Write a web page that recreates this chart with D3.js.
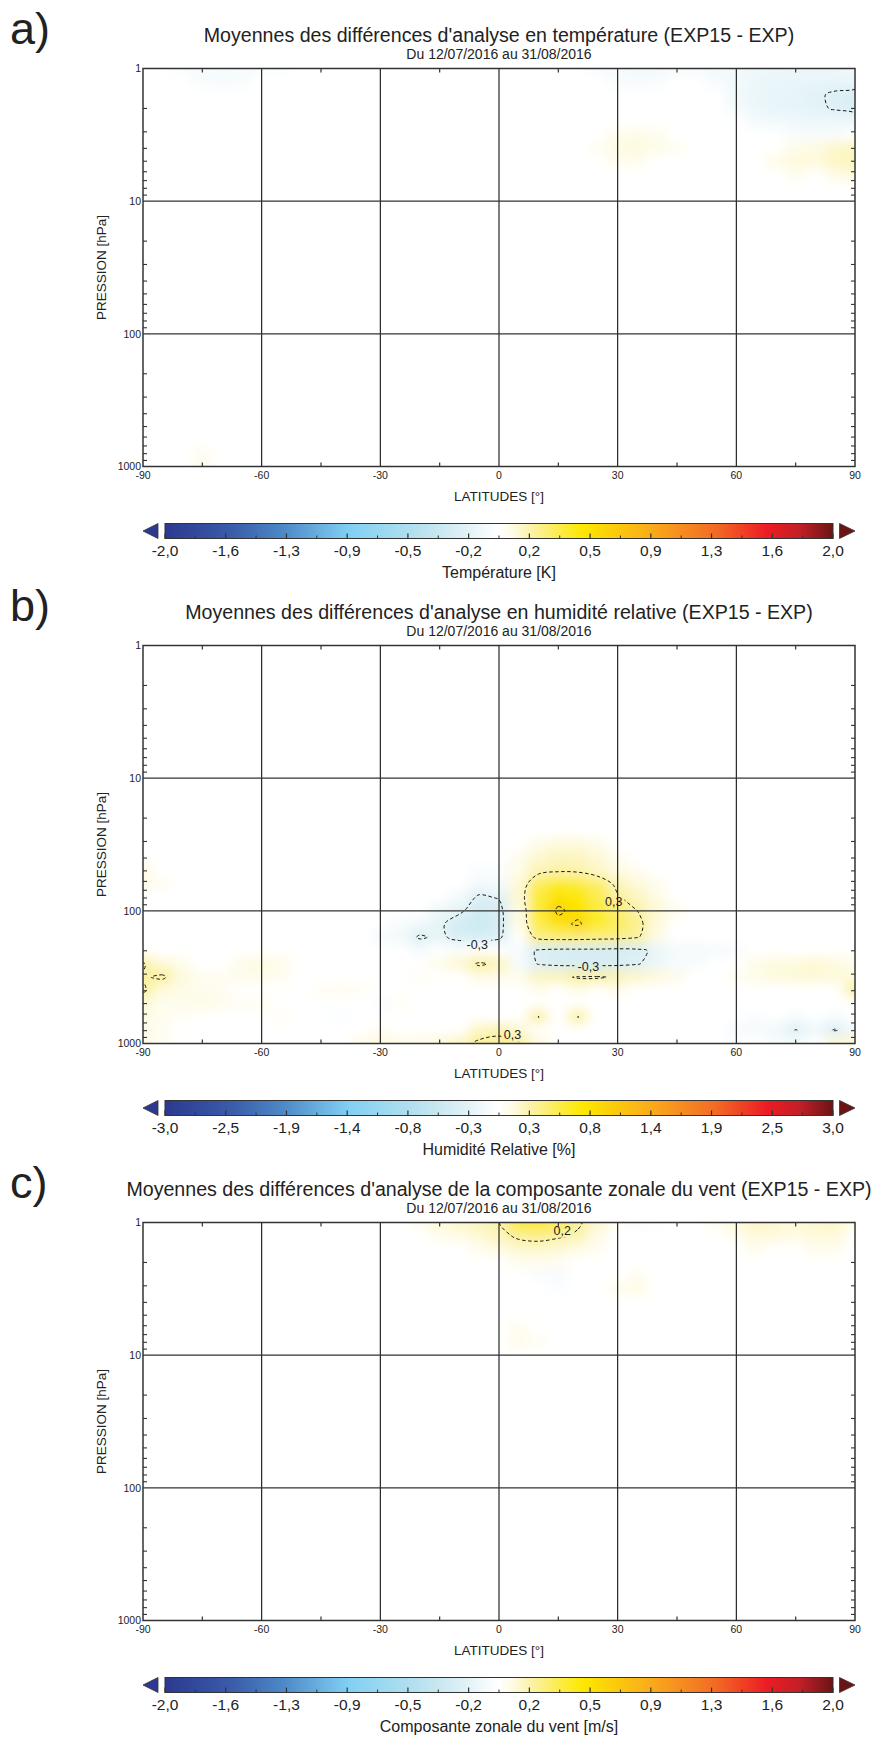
<!DOCTYPE html>
<html><head><meta charset="utf-8">
<script src="https://cdn.jsdelivr.net/npm/d3@7"></script>
<style>
body{margin:0;background:#fff}
svg{display:block}
text{font-family:"Liberation Sans",Arial,sans-serif;fill:#222}
</style>
</head><body>
<svg id="chart" width="872" height="1738"></svg>
<script>
// ---------------- DATA ----------------
const LATS = [-90,-85,-80,-75,-70,-65,-60,-55,-50,-45,-40,-35,-30,-25,-20,-15,-10,-5,0,5,10,15,20,25,30,35,40,45,50,55,60,65,70,75,80,85,90];
const PRESSURES = [1,1.26,1.58,2,2.51,3.16,3.98,5.01,6.31,7.94,10,12.6,15.8,20,25.1,31.6,39.8,50.1,63.1,79.4,100,126,158,200,251,316,398,501,631,794,1000];
const X_TICKS = [-90,-60,-30,0,30,60,90];
const X_MINOR = [-75,-45,-15,15,45,75];
const X_GRID = [-60,-30,0,30,60];
const Y_TICKS = [1,10,100,1000];
const Y_GRID = [10,100];
const Y_MINOR = [2,3,4,5,6,7,8,9,20,30,40,50,60,70,80,90,200,300,400,500,600,700,800,900];

const LETTERS = ["a)","b)","c)"];
const TITLES = [
 "Moyennes des différences d'analyse en température (EXP15 - EXP)",
 "Moyennes des différences d'analyse en humidité relative (EXP15 - EXP)",
 "Moyennes des différences d'analyse de la composante zonale du vent (EXP15 - EXP)"];
const SUBTITLE = "Du 12/07/2016 au 31/08/2016";
const CBAR_TITLES = ["Température [K]","Humidité Relative [%]","Composante zonale du vent [m/s]"];
const VMAX = [2,3,2];
const CBAR_LABELS_T = ["-2,0","-1,6","-1,3","-0,9","-0,5","-0,2","0,2","0,5","0,9","1,3","1,6","2,0"];
const CBAR_LABELS_H = ["-3,0","-2,5","-1,9","-1,4","-0,8","-0,3","0,3","0,8","1,4","1,9","2,5","3,0"];
const CBAR_LABELS_U = ["-2,0","-1,6","-1,3","-0,9","-0,5","-0,2","0,2","0,5","0,9","1,3","1,6","2,0"];
const CONTOUR_LEVELS = [[-0.2,0.2],[-0.3,0.3,0.9],[-0.2,0.2]];

// colour map: normalised value (v/vmax) -> colour
const CMAP_STOPS = [-1,-0.8,-0.65,-0.45,-0.25,-0.1,-0.04,0,0.04,0.1,0.25,0.45,0.65,0.8,0.9,1];
const CMAP_COLORS = ["#2b3990","#3a5ca9","#4c87c6","#80d0f3","#b5e0ee","#e0f1f6","#f4fafc","#ffffff","#fefbe4","#fbf1a4","#fde800","#f9ad1a","#f26a25","#ed1c24","#c21f26","#6b1416"];

// sparse field values [lat, pressure hPa, value]; all other cells are 0
const TEMP_CELLS = [
 [-80,1,-0.05],[-75,1,-0.07],[-70,1,-0.08],[-65,1,-0.07],[-60,1,-0.05],[-55,1,-0.03],
 [-75,1.26,-0.05],[-70,1.26,-0.06],[-65,1.26,-0.05],
 [25,1,-0.06],[30,1,-0.08],[35,1,-0.09],[40,1,-0.09],[45,1,-0.08],[50,1,-0.08],[55,1,-0.09],[60,1,-0.1],[65,1,-0.11],[70,1,-0.12],[75,1,-0.12],[80,1,-0.12],[85,1,-0.12],[90,1,-0.11],
 [30,1.26,-0.05],[35,1.26,-0.06],[40,1.26,-0.05],[55,1.26,-0.06],[60,1.26,-0.09],[65,1.26,-0.12],[70,1.26,-0.14],[75,1.26,-0.15],[80,1.26,-0.15],[85,1.26,-0.15],[90,1.26,-0.12],
 [60,1.58,-0.09],[65,1.58,-0.13],[70,1.58,-0.15],[75,1.58,-0.16],[80,1.58,-0.18],[85,1.58,-0.22],[90,1.58,-0.26],
 [60,2,-0.08],[65,2,-0.12],[70,2,-0.15],[75,2,-0.16],[80,2,-0.18],[85,2,-0.21],[90,2,-0.24],
 [65,2.51,-0.08],[70,2.51,-0.1],[75,2.51,-0.11],[80,2.51,-0.12],[85,2.51,-0.12],[90,2.51,-0.12],
 [75,3.16,-0.05],[80,3.16,-0.05],[85,3.16,-0.05],
 [30,3.16,0.05],[35,3.16,0.07],[40,3.16,0.05],
 [25,3.98,0.04],[30,3.98,0.08],[35,3.98,0.09],[40,3.98,0.07],[45,3.98,0.04],
 [30,5.01,0.05],[35,5.01,0.05],
 [75,3.98,0.06],[80,3.98,0.08],[85,3.98,0.12],[90,3.98,0.14],
 [70,5.01,0.07],[75,5.01,0.1],[80,5.01,0.1],[85,5.01,0.14],[90,5.01,0.16],
 [75,6.31,0.05],[85,6.31,0.08],[90,6.31,0.1],
 [-75,1000,0.05],[-75,794,0.04]
];
const HUM_CELLS = [
 [10,31.6,0.1],[15,31.6,0.14],[20,31.6,0.14],[25,31.6,0.1],
 [5,39.8,0.08],[10,39.8,0.18],[15,39.8,0.22],[20,39.8,0.22],[25,39.8,0.16],[30,39.8,0.08],
 [5,50.1,0.1],[10,50.1,0.24],[15,50.1,0.28],[20,50.1,0.27],[25,50.1,0.2],[30,50.1,0.12],[35,50.1,0.06],
 [5,63.1,0.15],[10,63.1,0.5],[15,63.1,0.65],[20,63.1,0.6],[25,63.1,0.45],[30,63.1,0.25],[35,63.1,0.15],[40,63.1,0.08],
 [5,79.4,0.18],[10,79.4,0.6],[15,79.4,0.8],[20,79.4,0.75],[25,79.4,0.55],[30,79.4,0.32],[35,79.4,0.22],[40,79.4,0.12],
 [5,100,0.12],[10,100,0.6],[15,100,0.95],[20,100,0.8],[25,100,0.6],[30,100,0.45],[35,100,0.3],[40,100,0.16],[45,100,0.08],
 [5,126,0.12],[10,126,0.55],[15,126,0.8],[20,126,0.95],[25,126,0.65],[30,126,0.5],[35,126,0.36],[40,126,0.15],
 [10,158,0.4],[15,158,0.45],[20,158,0.45],[25,158,0.42],[30,158,0.4],[35,158,0.32],[40,158,0.12],
 [-5,50.1,-0.06],[0,50.1,-0.05],[-5,63.1,-0.12],[0,63.1,-0.1],
 [-10,79.4,-0.12],[-5,79.4,-0.35],[0,79.4,-0.28],
 [-15,100,-0.18],[-10,100,-0.25],[-5,100,-0.45],[0,100,-0.4],
 [-25,126,-0.08],[-20,126,-0.15],[-15,126,-0.25],[-10,126,-0.45],[-5,126,-0.5],[0,126,-0.42],
 [-30,158,-0.1],[-25,158,-0.15],[-20,158,-0.33],[-15,158,-0.25],[-10,158,-0.38],[-5,158,-0.4],[0,158,-0.35],
 [-20,200,-0.1],[-10,200,-0.05],
 [-15,251,0.1],[-10,251,0.18],[-5,251,0.33],[0,251,0.25],[-5,316,0.12],[0,316,0.1],
 [5,200,-0.1],[10,200,-0.35],[15,200,-0.4],[20,200,-0.4],[25,200,-0.4],[30,200,-0.42],[35,200,-0.38],[40,200,-0.22],[45,200,-0.12],[50,200,-0.12],[55,200,-0.1],[60,200,-0.08],
 [5,251,-0.1],[10,251,-0.32],[15,251,-0.38],[20,251,-0.4],[25,251,-0.4],[30,251,-0.38],[35,251,-0.32],[40,251,-0.18],[45,251,-0.1],[50,251,-0.08],
 [5,316,0.1],[10,316,0.22],[15,316,0.25],[20,316,0.32],[25,316,0.33],[30,316,0.26],[35,316,0.2],[40,316,0.15],[45,316,0.08],
 [10,398,0.08],[20,398,0.1],[30,398,0.08],
 [-90,251,0.32],[-85,251,0.15],[-80,251,0.08],
 [-90,316,0.28],[-85,316,0.33],[-80,316,0.14],[-75,316,0.07],
 [-90,398,0.33],[-85,398,0.14],[-80,398,0.1],[-75,398,0.08],[-70,398,0.06],
 [-90,501,0.15],[-85,501,0.07],[-80,501,0.1],[-75,501,0.12],[-70,501,0.08],[-65,501,0.05],
 [-90,631,0.12],[-85,631,0.07],[-80,631,0.04],
 [-90,794,0.1],[-85,794,0.06],[-90,1000,0.08],[-85,1000,0.06],
 [-65,251,0.1],[-60,251,0.13],[-55,251,0.1],[-70,316,0.06],[-65,316,0.09],[-60,316,0.09],[-55,316,0.06],
 [-60,501,0.06],[-55,631,0.05],
 [-35,1000,0.1],[-30,1000,0.14],[-25,1000,0.12],[-30,794,0.05],
 [-45,398,0.05],[-40,398,0.06],[-35,398,0.05],[-20,316,0.05],[-25,501,0.04],[-40,631,-0.05],[-30,501,-0.05],
 [-20,1000,0.12],[-15,1000,0.15],[-10,1000,0.22],[-5,1000,0.34],[0,1000,0.35],[5,1000,0.32],[10,1000,0.15],
 [-5,794,0.2],[0,794,0.26],[5,794,0.18],
 [10,631,0.31],[20,631,0.31],
 [65,251,0.1],[70,251,0.13],[75,251,0.14],[80,251,0.16],[85,251,0.14],[90,251,0.1],
 [60,316,0.07],[65,316,0.1],[70,316,0.14],[75,316,0.16],[80,316,0.16],[85,316,0.15],[90,316,0.14],
 [90,398,0.31],
 [60,794,-0.1],[65,794,-0.12],[70,794,-0.15],[75,794,-0.31],[80,794,-0.18],[85,794,-0.32],[90,794,-0.15],
 [70,1000,-0.08],[75,1000,-0.1],[85,1000,0.15],[90,1000,0.2],
 [65,631,-0.06],[75,631,-0.08],[85,631,-0.08],
 [-90,50.1,0.12],[-90,63.1,0.1],[-85,63.1,0.06]
];
const WIND_CELLS = [
 [-20,1,0.06],[-15,1,0.1],[-10,1,0.13],[-5,1,0.16],[0,1,0.19],[5,1,0.5],[10,1,0.52],[15,1,0.4],[20,1,0.22],[25,1,0.12],[30,1,0.03],[35,1,-0.05],[40,1,-0.03],
 [-15,1.26,0.05],[-10,1.26,0.08],[-5,1.26,0.11],[0,1.26,0.15],[5,1.26,0.23],[10,1.26,0.25],[15,1.26,0.22],[20,1.26,0.18],[25,1.26,0.08],
 [-5,1.58,0.05],[0,1.58,0.09],[5,1.58,0.12],[10,1.58,0.13],[15,1.58,0.11],[20,1.58,0.08],[25,1.58,0.04],
 [5,2,0.05],[10,2,0.05],[15,2,0.04],
 [10,2.51,-0.04],[15,2.51,-0.05],[15,3.16,-0.04],
 [30,3.16,0.05],[35,3.16,0.08],[35,2.51,0.04],
 [5,6.31,0.05],[5,7.94,0.06],[10,7.94,0.04],
 [55,1,0.05],[60,1,0.1],[65,1,0.13],[70,1,0.12],[75,1,0.1],[80,1,0.12],[85,1,0.13],[90,1,0.08],
 [60,1.26,0.06],[65,1.26,0.1],[70,1.26,0.1],[75,1.26,0.08],[80,1.26,0.1],[85,1.26,0.1],
 [65,1.58,0.05],[80,1.58,0.06],[85,1.58,0.05]
];
// contour labels: [lat, pressure, text]
const LABELS_T = [];
const LABELS_H = [[29,85,"0,3"],[-5.5,178,"-0,3"],[22.6,265,"-0,3"],[3.4,860,"0,3"]];
const LABELS_U = [[16,1.15,"0,2"]];

// ---------------- LAYOUT ----------------
const PL = 143, PR = 855, PT = 68.5, PB = 466.5, CX = 499;
const OFFSETS = [0, 577, 1154];
const CELLS = [TEMP_CELLS, HUM_CELLS, WIND_CELLS];
const CB_LABELS = [CBAR_LABELS_T, CBAR_LABELS_H, CBAR_LABELS_U];
const C_LABELS = [LABELS_T, LABELS_H, LABELS_U];

const svg = d3.select("#chart");
const defs = svg.append("defs");
defs.append("filter").attr("id","smooth").attr("filterUnits","userSpaceOnUse")
  .attr("x",0).attr("y",0).attr("width",872).attr("height",1738)
  .append("feGaussianBlur").attr("stdDeviation",6);

const x = d3.scaleLinear().domain([-90,90]).range([PL,PR]);
const nx = LATS.length, ny = PRESSURES.length;

function buildGrid(cells){
  const g = new Array(nx*ny).fill(0);
  cells.forEach(([lat,p,v])=>{
    const i = d3.minIndex(LATS,l=>Math.abs(l-lat));
    const j = d3.minIndex(PRESSURES,q=>Math.abs(Math.log10(q)-Math.log10(p)));
    g[j*nx+i] = v;
  });
  return g;
}

CELLS.forEach((cells,k)=>{
  const off = OFFSETS[k];
  const vmax = VMAX[k];
  const y = d3.scaleLog().domain([1,1000]).range([PT+off, PB+off]);
  const color = d3.scaleLinear().domain(CMAP_STOPS.map(s=>s*vmax)).range(CMAP_COLORS).clamp(true);
  const g = svg.append("g");

  // panel letter & titles
  g.append("text").attr("x",10).attr("y",44+off).attr("font-size",45).text(LETTERS[k]);
  g.append("text").attr("x",CX).attr("y",41.5+off).attr("text-anchor","middle").attr("font-size",19.6).text(TITLES[k]);
  g.append("text").attr("x",CX).attr("y",58.5+off).attr("text-anchor","middle").attr("font-size",14).text(SUBTITLE);

  // clip
  const cid = "clip"+k;
  defs.append("clipPath").attr("id",cid).append("rect")
    .attr("x",PL).attr("y",PT+off).attr("width",PR-PL).attr("height",PB-PT);

  // field
  const grid = buildGrid(cells);
  const yPix = PRESSURES.map(p=>y(p));
  const xPix = LATS.map(l=>x(l));
  const edgeY = j => j<=0 ? yPix[0]-(yPix[1]-yPix[0])/2 : (j>=ny ? yPix[ny-1]+(yPix[ny-1]-yPix[ny-2])/2 : (yPix[j-1]+yPix[j])/2);
  const edgeX = i => i<=0 ? xPix[0]-(xPix[1]-xPix[0])/2 : (i>=nx ? xPix[nx-1]+(xPix[nx-1]-xPix[nx-2])/2 : (xPix[i-1]+xPix[i])/2);
  const cellData = [];
  for(let j=0;j<ny;j++) for(let i=0;i<nx;i++) cellData.push({i,j,v:grid[j*nx+i]});
  const clipG = g.append("g").attr("clip-path",`url(#${cid})`);
  clipG.append("rect").attr("x",PL).attr("y",PT+off).attr("width",PR-PL).attr("height",PB-PT).attr("fill","#fff");
  clipG.append("g").attr("filter","url(#smooth)")
    .selectAll("rect").data(cellData).join("rect")
    .attr("x",d=>edgeX(d.i)-0.5).attr("y",d=>edgeY(d.j)-0.5)
    .attr("width",d=>edgeX(d.i+1)-edgeX(d.i)+1).attr("height",d=>edgeY(d.j+1)-edgeY(d.j)+1)
    .attr("fill",d=>color(d.v));

  // contours
  const fx = c => { const f=c-0.5; const i0=Math.max(0,Math.min(nx-2,Math.floor(f))); return xPix[i0]+(xPix[i0+1]-xPix[i0])*(f-i0); };
  const fy = c => { const f=c-0.5; const j0=Math.max(0,Math.min(ny-2,Math.floor(f))); return yPix[j0]+(yPix[j0+1]-yPix[j0])*(f-j0); };
  const contours = d3.contours().size([nx,ny]).smooth(true).thresholds(CONTOUR_LEVELS[k])(grid);
  const line = d3.line().curve(d3.curveCatmullRomClosed.alpha(0.5));
  const mid = "mask"+k;
  const mask = defs.append("mask").attr("id",mid).attr("maskUnits","userSpaceOnUse")
    .attr("x",0).attr("y",0).attr("width",872).attr("height",1738);
  mask.append("rect").attr("x",0).attr("y",0).attr("width",872).attr("height",1738).attr("fill","#fff");
  C_LABELS[k].forEach(([lat,p,t])=>{
    const w = t.length*6.5+2;
    mask.append("rect").attr("x",x(lat)-w/2).attr("y",y(p)-7).attr("width",w).attr("height",14).attr("fill","#000");
  });
  const cg = clipG.append("g").attr("mask",`url(#${mid})`);
  contours.forEach(c=>{
    c.coordinates.forEach(poly=>poly.forEach(ring=>{
      const pts = ring.slice(0,-1).map(([cx,cy])=>[fx(cx),fy(cy)]);
      if(pts.length<3) return;
      cg.append("path").attr("d",line(pts)).attr("fill","none")
        .attr("stroke","#1a1a1a").attr("stroke-width",1).attr("stroke-dasharray","3.5,2.5");
    }));
  });
  C_LABELS[k].forEach(([lat,p,t])=>{
    clipG.append("text").attr("x",x(lat)).attr("y",y(p)+4.5).attr("text-anchor","middle")
      .attr("font-size",12.5).text(t);
  });

  // grid lines
  g.selectAll(".vg").data(X_GRID).join("line")
    .attr("x1",d=>x(d)).attr("x2",d=>x(d)).attr("y1",PT+off).attr("y2",PB+off)
    .attr("stroke","#111").attr("stroke-width",1.1);
  g.selectAll(".hg").data(Y_GRID).join("line")
    .attr("x1",PL).attr("x2",PR).attr("y1",d=>y(d)).attr("y2",d=>y(d))
    .attr("stroke","#333").attr("stroke-width",1.4);
  // minor ticks
  X_MINOR.forEach(d=>{
    g.append("line").attr("x1",x(d)).attr("x2",x(d)).attr("y1",PT+off).attr("y2",PT+off+4).attr("stroke","#333").attr("stroke-width",1.2);
    g.append("line").attr("x1",x(d)).attr("x2",x(d)).attr("y1",PB+off).attr("y2",PB+off-4).attr("stroke","#333").attr("stroke-width",1.2);
  });
  Y_MINOR.forEach(d=>{
    g.append("line").attr("x1",PL).attr("x2",PL+4).attr("y1",y(d)).attr("y2",y(d)).attr("stroke","#333").attr("stroke-width",1.1);
    g.append("line").attr("x1",PR).attr("x2",PR-4).attr("y1",y(d)).attr("y2",y(d)).attr("stroke","#333").attr("stroke-width",1.1);
  });
  // frame
  g.append("rect").attr("x",PL).attr("y",PT+off).attr("width",PR-PL).attr("height",PB-PT)
    .attr("fill","none").attr("stroke","#333").attr("stroke-width",1.5);
  // tick labels
  g.selectAll(".yl").data(Y_TICKS).join("text")
    .attr("x",PL-2).attr("y",d=>y(d)+3.8).attr("text-anchor","end").attr("font-size",10.5).text(d=>d);
  g.selectAll(".xl").data(X_TICKS).join("text")
    .attr("x",d=>x(d)).attr("y",PB+off+12.5).attr("text-anchor","middle").attr("font-size",10.5).text(d=>d);
  g.append("text").attr("x",CX).attr("y",PB+off+34).attr("text-anchor","middle").attr("font-size",13.5).text("LATITUDES [°]");
  g.append("text").attr("transform",`translate(106,${(PT+PB)/2+off}) rotate(-90)`)
    .attr("text-anchor","middle").attr("font-size",13.5).text("PRESSION [hPa]");

  // colorbar
  const cbL = 165, cbR = 833, cbT = 523.5+off, cbB = 538.5+off;
  const gid = "grad"+k;
  const grad = defs.append("linearGradient").attr("id",gid).attr("x1","0%").attr("x2","100%");
  CMAP_STOPS.forEach((s,i)=>grad.append("stop").attr("offset",((s+1)/2*100)+"%").attr("stop-color",CMAP_COLORS[i]));
  g.append("rect").attr("x",cbL).attr("y",cbT).attr("width",cbR-cbL).attr("height",cbB-cbT)
    .attr("fill",`url(#${gid})`).attr("stroke","#333").attr("stroke-width",1);
  g.append("path").attr("d",`M158,${cbT} L143,${(cbT+cbB)/2} L158,${cbB} Z`).attr("fill",CMAP_COLORS[0]).attr("stroke","#333").attr("stroke-width",0.8);
  g.append("path").attr("d",`M839.5,${cbT} L855,${(cbT+cbB)/2} L839.5,${cbB} Z`).attr("fill",CMAP_COLORS[CMAP_COLORS.length-1]).attr("stroke","#333").attr("stroke-width",0.8);
  const labs = CB_LABELS[k];
  const cx = d3.scalePoint().domain(labs).range([cbL,cbR]);
  const step = (cbR-cbL)/(labs.length-1);
  labs.forEach((t,i)=>{
    const px = cx(t);
    g.append("line").attr("x1",px).attr("x2",px).attr("y1",cbB).attr("y2",cbB-5).attr("stroke","#333").attr("stroke-width",1.2);
    if(i<labs.length-1) g.append("line").attr("x1",px+step/2).attr("x2",px+step/2).attr("y1",cbB).attr("y2",cbB-3).attr("stroke","#333").attr("stroke-width",1);
    g.append("text").attr("x",px).attr("y",cbB+17.5).attr("text-anchor","middle").attr("font-size",15.5).text(t);
  });
  g.append("text").attr("x",CX).attr("y",578+off).attr("text-anchor","middle").attr("font-size",16).text(CBAR_TITLES[k]);
});
</script>
</body></html>
